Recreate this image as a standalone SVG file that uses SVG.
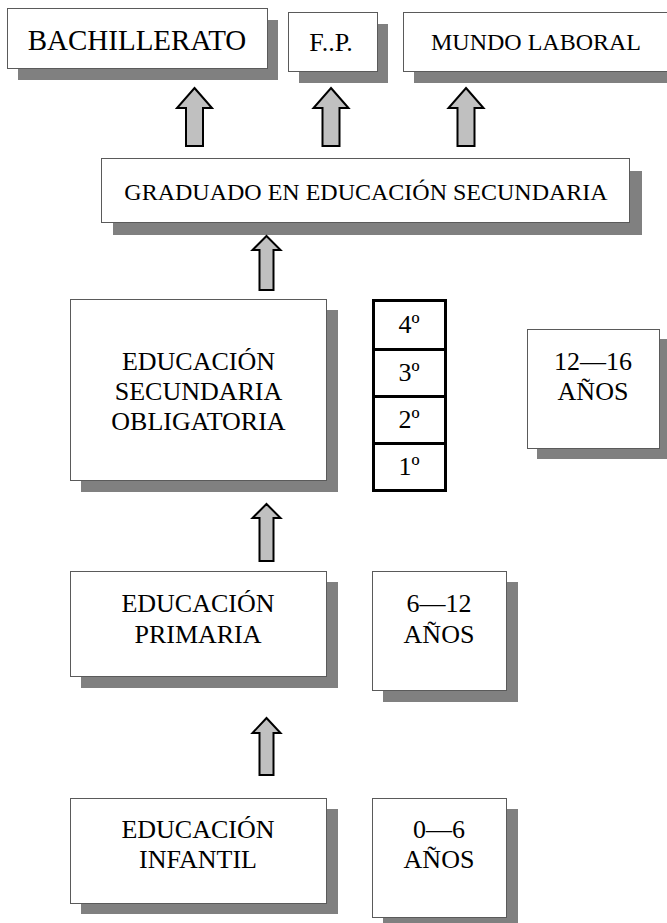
<svg xmlns="http://www.w3.org/2000/svg" width="667" height="923" viewBox="0 0 667 923">
<style>
.box{fill:#ffffff;stroke:#5a5a5a;stroke-width:1}
.sh{fill:#808080}
text{font-family:'Liberation Serif','DejaVu Serif',serif;fill:#000;text-anchor:middle}
.arr{fill:#c0c0c0;stroke:#000;stroke-width:2;stroke-linejoin:miter}
.cell{fill:#fff;stroke:#000;stroke-width:3}
</style>
<rect width="667" height="923" fill="#fff"/>
<g id="bachillerato">
<rect class="sh" x="18" y="20" width="260" height="60"/>
<rect class="box" x="7.5" y="8.5" width="260" height="60"/>
<text font-family="Liberation Serif, serif" x="137" y="50" font-size="29">BACHILLERATO</text>
</g>
<g id="fp">
<rect class="sh" x="299" y="24" width="89" height="59"/>
<rect class="box" x="288.5" y="12.5" width="89" height="59"/>
<text font-family="Liberation Serif, serif" x="331" y="51" font-size="26">F..P.</text>
</g>
<g id="mundo">
<rect class="sh" x="414" y="24" width="270" height="59"/>
<rect class="box" x="403.5" y="12.5" width="270" height="59"/>
<text font-family="Liberation Serif, serif" x="536" y="50" font-size="24">MUNDO LABORAL</text>
</g>
<g id="graduado">
<rect class="sh" x="113" y="171" width="529" height="64"/>
<rect class="box" x="101.5" y="158.5" width="528" height="64"/>
<text font-family="Liberation Serif, serif" x="366" y="200" font-size="24">GRADUADO EN EDUCACIÓN SECUNDARIA</text>
</g>
<g id="eso">
<rect class="sh" x="81" y="310" width="257" height="182"/>
<rect class="box" x="70.5" y="299.5" width="256" height="181"/>
<text font-family="Liberation Serif, serif" x="198.5" y="370" font-size="26">EDUCACIÓN</text>
<text font-family="Liberation Serif, serif" x="198.5" y="400" font-size="26">SECUNDARIA</text>
<text font-family="Liberation Serif, serif" x="198.5" y="430" font-size="26">OBLIGATORIA</text>
</g>
<g id="cursos">
<rect class="cell" x="373.5" y="300.5" width="72" height="49"/>
<rect class="cell" x="373.5" y="349.5" width="72" height="47"/>
<rect class="cell" x="373.5" y="396.5" width="72" height="47"/>
<rect class="cell" x="373.5" y="443.5" width="72" height="47"/>
<text font-family="Liberation Serif, serif" x="409" y="333" font-size="26">4º</text>
<text font-family="Liberation Serif, serif" x="409" y="381" font-size="26">3º</text>
<text font-family="Liberation Serif, serif" x="409" y="428" font-size="26">2º</text>
<text font-family="Liberation Serif, serif" x="409" y="475" font-size="26">1º</text>
</g>
<g id="edad-eso">
<rect class="sh" x="537" y="339" width="133" height="120"/>
<rect class="box" x="527.5" y="329.5" width="132" height="119"/>
<text font-family="Liberation Serif, serif" x="593" y="370" font-size="26">12—16</text>
<text font-family="Liberation Serif, serif" x="593" y="400" font-size="26">AÑOS</text>
</g>
<g id="primaria">
<rect class="sh" x="81" y="582" width="257" height="106"/>
<rect class="box" x="70.5" y="571.5" width="256" height="105"/>
<text font-family="Liberation Serif, serif" x="198" y="612" font-size="26">EDUCACIÓN</text>
<text font-family="Liberation Serif, serif" x="198" y="643" font-size="26">PRIMARIA</text>
</g>
<g id="edad-primaria">
<rect class="sh" x="383" y="582" width="135" height="120"/>
<rect class="box" x="372.5" y="571.5" width="134" height="119"/>
<text font-family="Liberation Serif, serif" x="439" y="612" font-size="26">6—12</text>
<text font-family="Liberation Serif, serif" x="439" y="643" font-size="26">AÑOS</text>
</g>
<g id="infantil">
<rect class="sh" x="81" y="809" width="257" height="105"/>
<rect class="box" x="70.5" y="798.5" width="256" height="105"/>
<text font-family="Liberation Serif, serif" x="198" y="838" font-size="26">EDUCACIÓN</text>
<text font-family="Liberation Serif, serif" x="198" y="868" font-size="26">INFANTIL</text>
</g>
<g id="edad-infantil">
<rect class="sh" x="383" y="809" width="135" height="120"/>
<rect class="box" x="372.5" y="798.5" width="134" height="119"/>
<text font-family="Liberation Serif, serif" x="439" y="838" font-size="26">0—6</text>
<text font-family="Liberation Serif, serif" x="439" y="868" font-size="26">AÑOS</text>
</g>
<g id="connectors">
<polygon class="arr" points="194.5,88 212,108 203,108 203,146 186,146 186,108 177,108"/>
<polygon class="arr" points="331,88 348.5,108 339.5,108 339.5,146 322.5,146 322.5,108 313.5,108"/>
<polygon class="arr" points="466,88 483.5,108 474.5,108 474.5,146 457.5,146 457.5,108 448.5,108"/>
<polygon class="arr" points="266.5,236 280.5,250 273.5,250 273.5,290 259.5,290 259.5,250 252.5,250"/>
<polygon class="arr" points="266.5,504 280.5,518 273.5,518 273.5,561 259.5,561 259.5,518 252.5,518"/>
<polygon class="arr" points="266.5,718 280.5,733 273.5,733 273.5,775 259.5,775 259.5,733 252.5,733"/>
</g>
</svg>
